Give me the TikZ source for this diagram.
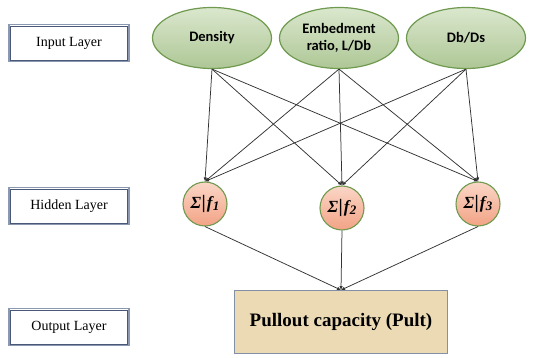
\documentclass[tikz,border=0pt]{standalone}
\usepackage{fontspec}
\setmainfont{Liberation Serif}
\newfontfamily\calib{Carlito}
\usetikzlibrary{arrows.meta,shapes.geometric}
\definecolor{elbord}{HTML}{6F9A4F}
\definecolor{eltop}{HTML}{DAE7CD}
\definecolor{elbot}{HTML}{AEC796}
\definecolor{hitop}{HTML}{FAD6C6}
\definecolor{hibot}{HTML}{F2A385}
\definecolor{outfill}{HTML}{EBDAB4}
\definecolor{outbord}{HTML}{8190A6}
\definecolor{labout}{HTML}{8A98B0}
\definecolor{labin}{HTML}{4A5878}
\definecolor{conn}{HTML}{333333}
\newcommand{\sumf}[1]{Σ\kern0.5pt{\upshape\fontsize{19}{20}\selectfont|}\kern1pt f\kern0.5pt\raisebox{-2pt}{\fontsize{13}{14}\selectfont #1}}
\tikzset{
  layerbox/.style={draw=labout, line width=1.1pt,
    minimum width=120pt, minimum height=37pt, inner sep=0pt, font=\fontsize{14}{16}\selectfont},
  inputnode/.style={ellipse, draw=elbord, line width=1.2pt, top color=eltop, bottom color=elbot,
    minimum width=119pt, minimum height=61pt, inner sep=0pt, align=center,
    font=\calib\bfseries\fontsize{14.5}{17}\selectfont},
  hidnode/.style={circle, draw=elbord, line width=1.1pt, top color=hitop, bottom color=hibot,
    minimum size=44pt, inner sep=0pt, font=\bfseries\itshape\fontsize{17}{18}\selectfont},
  outnode/.style={draw=outbord, line width=0.9pt, fill=outfill, minimum width=213pt,
    minimum height=63pt, inner sep=0pt, font=\bfseries\fontsize{19}{21}\selectfont},
  conn/.style={draw=conn, line width=0.75pt, -{Latex[length=4pt,width=3.5pt]}},
  innerline/.style={draw=labin, line width=0.6pt}
}
\begin{document}
\begin{tikzpicture}[x=1pt,y=-1pt]
\useasboundingbox (0,0) rectangle (547,358);
\node[layerbox] (lin) at (69,43) {Input Layer};
\node[layerbox] (lhid) at (69,206) {Hidden Layer};
\node[layerbox] (lout) at (69,327) {Output Layer};
\foreach \b in {lin,lhid,lout}{
  \draw[innerline] ([shift={(2.2pt,-2.2pt)}]\b.north west) rectangle ([shift={(-2.2pt,2.2pt)}]\b.south east);
}
\node[inputnode] (i1) at (212,38) {Density};
\node[inputnode] (i2) at (339,38) {Embedment\\ratio, L/Db};
\node[inputnode] (i3) at (466,38) {Db/Ds};
\node[hidnode] (h1) at (205,204) {\sumf{1}};
\node[hidnode] (h2) at (342,208) {\sumf{2}};
\node[hidnode] (h3) at (478,204) {\sumf{3}};
\node[outnode] (o) at (341,322) {Pullout capacity (Pult)};
\foreach \i in {i1,i2,i3}{
  \foreach \h in {h1,h2,h3}{
    \draw[conn] (\i.south) -- (\h.north);
  }
}
\foreach \h in {h1,h2,h3}{
  \draw[conn] (\h.south) -- (o.north);
}
\end{tikzpicture}
\end{document}
